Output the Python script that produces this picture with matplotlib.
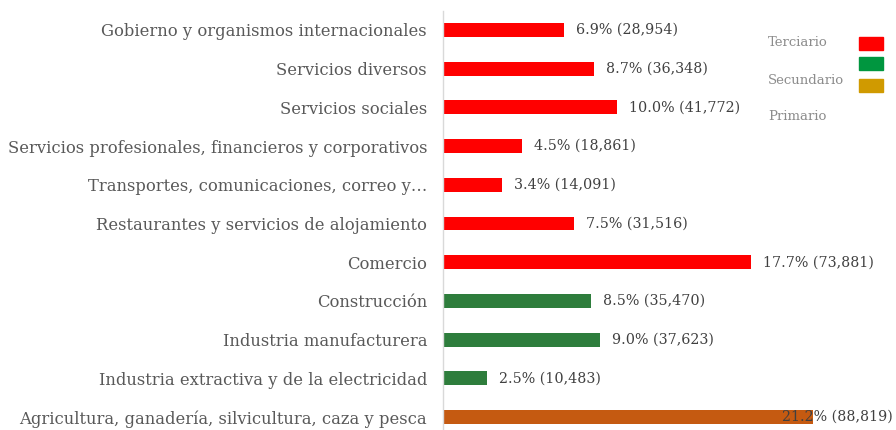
import matplotlib
matplotlib.use("Agg")
import matplotlib.pyplot as plt
from matplotlib.patches import Rectangle

categories = [
    "Gobierno y organismos internacionales",
    "Servicios diversos",
    "Servicios sociales",
    "Servicios profesionales, financieros y corporativos",
    "Transportes, comunicaciones, correo y…",
    "Restaurantes y servicios de alojamiento",
    "Comercio",
    "Construcción",
    "Industria manufacturera",
    "Industria extractiva y de la electricidad",
    "Agricultura, ganadería, silvicultura, caza y pesca",
]
values = [28954, 36348, 41772, 18861, 14091, 31516, 73881, 35470, 37623, 10483, 88819]
percents = [6.9, 8.7, 10.0, 4.5, 3.4, 7.5, 17.7, 8.5, 9.0, 2.5, 21.2]
sectors = ["Terciario"] * 7 + ["Secundario"] * 3 + ["Primario"]

bar_colors = {"Terciario": "#FF0000", "Secundario": "#2E7D3C", "Primario": "#C55A11"}
legend_colors = {"Terciario": "#FF0000", "Secundario": "#00963F", "Primario": "#D09A00"}

plt.rcParams['font.family'] = ['DejaVu Serif']

W, H = 896, 430
fig = plt.figure(figsize=(W / 100, H / 100), dpi=100)
ax_left, ax_right = 443, 896
ax_top, ax_bottom = 11, 430
ax = fig.add_axes([ax_left / W, 1 - ax_bottom / H, (ax_right - ax_left) / W, (ax_bottom - ax_top) / H])

n = len(categories)
ypos = list(range(n))
colors = [bar_colors[s] for s in sectors]
ax.barh(ypos, values, height=0.36, color=colors, zorder=2)
xmax = 88819 * (ax_right - ax_left) / 370.0
ax.set_xlim(0, xmax)
row_px = 38.7
ax.set_ylim((n - 1) + (430 - 417) / row_px, -(30 - ax_top) / row_px)

ax.set_yticks(ypos)
ax.set_yticklabels(categories, fontsize=11.75, color="#595959")
ax.tick_params(axis='y', length=0, pad=11.5)
ax.set_xticks([])
for s in ["top", "right", "bottom"]:
    ax.spines[s].set_visible(False)
ax.spines["left"].set_color("#D9D9D9")
ax.spines["left"].set_linewidth(1.0)

px = xmax / (ax_right - ax_left)
for y, v, p in zip(ypos, values, percents):
    txt = f"{p:.1f}% ({v:,})"
    if v + 12 * px + 130 * px > xmax:
        ax.text(xmax - 3 * px, y, txt, ha="right", va="center", fontsize=10.3, color="#404040", zorder=3)
    else:
        ax.text(v + 12 * px, y, txt, ha="left", va="center", fontsize=10.3, color="#404040", zorder=3)

# legend
leg_items = ["Terciario", "Secundario", "Primario"]
text_y = [43, 80, 116]
box_y = [37, 57, 79]
for name, ty, by in zip(leg_items, text_y, box_y):
    fig.text(768 / W, 1 - ty / H, name, ha="left", va="center", fontsize=9.5, color="#8C8C8C")
    fig.patches.append(Rectangle((859 / W, 1 - (by + 13) / H), 24 / W, 13 / H,
                                 transform=fig.transFigure, color=legend_colors[name]))

fig.savefig("out.png", dpi=100)
